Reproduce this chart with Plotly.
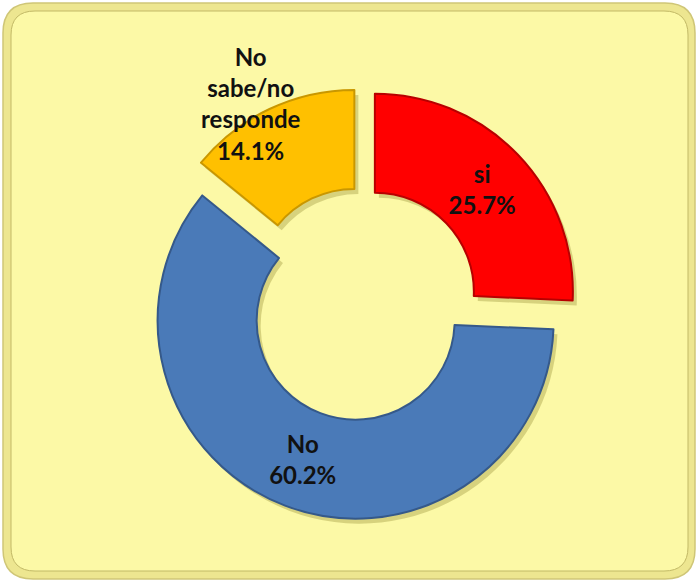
import plotly.graph_objects as go

# Survey answers, clockwise from 12 o'clock
labels = ["si", "No", "No sabe/no responde"]
values = [25.7, 60.2, 14.1]
colors = ["#FF0000", "#4A7AB8", "#FFC000"]
edge_colors = ["#B80000", "#35598A", "#C99700"]

W, H = 698, 581
PULL = 0.09
HOLE = 0.5


def px(x):
    return x / W


def py(y):
    return 1 - y / H


def rounded_rect(x0, y0, x1, y1, r):
    """SVG path of a rounded rectangle given in pixels, returned in paper units."""
    pts = [
        f"M {px(x0 + r)},{py(y0)}",
        f"L {px(x1 - r)},{py(y0)}",
        f"Q {px(x1)},{py(y0)} {px(x1)},{py(y0 + r)}",
        f"L {px(x1)},{py(y1 - r)}",
        f"Q {px(x1)},{py(y1)} {px(x1 - r)},{py(y1)}",
        f"L {px(x0 + r)},{py(y1)}",
        f"Q {px(x0)},{py(y1)} {px(x0)},{py(y1 - r)}",
        f"L {px(x0)},{py(y0 + r)}",
        f"Q {px(x0)},{py(y0)} {px(x0 + r)},{py(y0)}",
        "Z",
    ]
    return " ".join(pts)


# pie placement: centre and outer radius in pixels
cx, cy, R = 362, 304, 198
half = R * (1 + PULL)


def domain(dx=0, dy=0):
    return dict(
        x=[px(cx - half + dx), px(cx + half + dx)],
        y=[py(cy + half + dy), py(cy - half + dy)],
    )


total = sum(values)
templates = ["%{label}<br>%{percent:.1%}", "%{label}<br>%{percent:.1%}", ""]
label_font = dict(family="Lato", size=24, color="#111111", weight="bold")

fig = go.Figure()

# soft drop shadow under the ring
fig.add_trace(go.Pie(
    labels=labels, values=values, sort=False, direction="clockwise",
    hole=HOLE, pull=[PULL] * 3, domain=domain(4, 5),
    marker=dict(colors=["rgba(120,110,20,0.28)"] * 3, line=dict(width=0)),
    textinfo="none", hoverinfo="skip", showlegend=False,
))

fig.add_trace(go.Pie(
    labels=labels, values=values, sort=False, direction="clockwise",
    hole=HOLE, pull=[PULL] * 3, domain=domain(),
    marker=dict(colors=colors, line=dict(color=edge_colors, width=2)),
    texttemplate=templates, textposition="inside",
    insidetextorientation="horizontal",
    textfont=label_font,
    showlegend=False,
))

# label of the small slice sits above it
idx = 2
yellow_text = "<br>".join(labels[idx].split()) + f"<br>{values[idx] / total * 100:.1f}%"

fig.update_layout(
    width=W, height=H,
    margin=dict(l=0, r=0, t=0, b=0),
    paper_bgcolor="white",
    showlegend=False,
    shapes=[
        dict(type="path", xref="paper", yref="paper", layer="below",
             path=rounded_rect(3, 3, 695, 579, 30),
             fillcolor="#EDE690", line=dict(color="#CFC677", width=1.5)),
        dict(type="path", xref="paper", yref="paper", layer="below",
             path=rounded_rect(11, 11, 688, 571, 24),
             fillcolor="#FCF9A6", line=dict(color="#C2B966", width=1)),
    ],
    annotations=[
        dict(x=px(251), y=py(104), xref="paper", yref="paper",
             xanchor="center", yanchor="middle",
             text=yellow_text, showarrow=False, align="center",
             font=label_font),
    ],
)

fig.write_html("out.html")
